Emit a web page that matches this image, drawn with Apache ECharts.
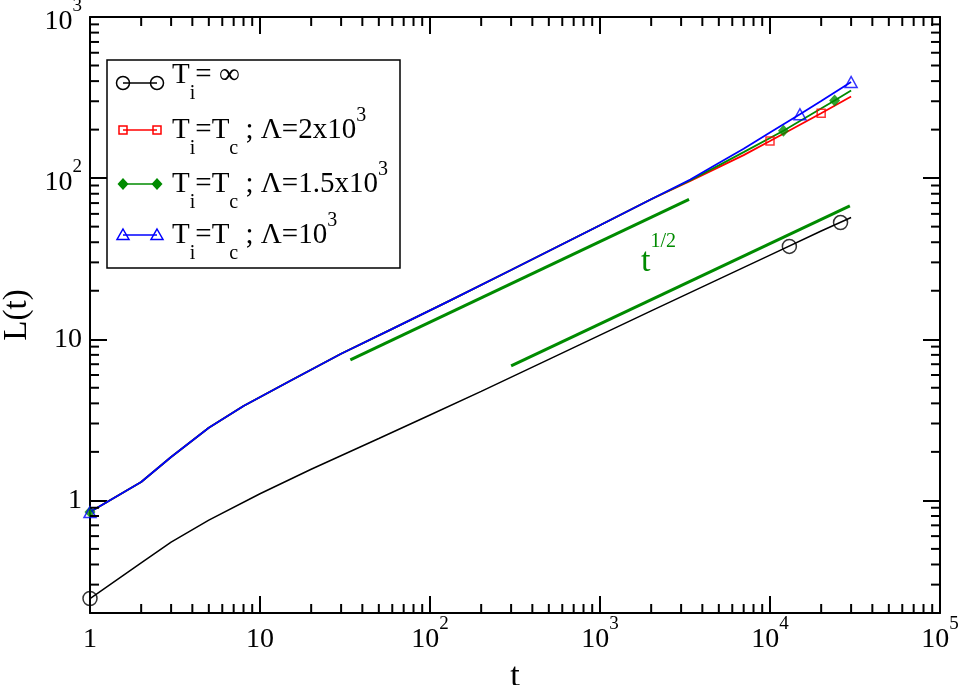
<!DOCTYPE html>
<html>
<head>
    <meta charset="utf-8">
    <script src="https://cdn.jsdelivr.net/npm/echarts@6/dist/echarts.min.js"></script>
    <style>
        html, body { margin: 0; padding: 0; background: #fff; }
        #main { width: 961px; height: 685px; }
    </style>
</head>
<body>
    <div id="main"></div>
    <script>
        var FONT = '"Liberation Serif", "Times New Roman", serif';
        var GREEN = '#008b00';

        // T_i = infinity
        var blackT = [1, 2, 3, 5, 10, 20, 50, 100, 200, 500, 1000, 2000, 5000, 10000, 20000, 30000];
        var blackL = [0.246, 0.41, 0.55, 0.755, 1.1, 1.56, 2.42, 3.39, 4.75, 7.5, 10.6, 15.0, 23.6, 33.3, 47, 57];
        var blackMarkT = [1, 13000, 26000];
        var blackMarkL = [0.246, 37.7, 53];

        // T_i = T_c, Lambda = 2x10^3
        var redT = [1, 2, 3, 5, 8, 15, 30, 60, 130, 300, 1000, 2000, 3400, 5000, 7000, 10000, 20000, 30000];
        var redL = [0.846, 1.30, 1.86, 2.82, 3.85, 5.51, 8.13, 11.6, 17.3, 26.9, 51, 74, 96, 117, 139, 170, 253, 321];
        var redMarkT = [10000, 20000];
        var redMarkL = [170, 253];

        // T_i = T_c, Lambda = 1.5x10^3
        var greenT = [1, 2, 3, 5, 8, 15, 30, 60, 130, 300, 1000, 2000, 3400, 5000, 7000, 12000, 24000, 30000];
        var greenL = [0.846, 1.30, 1.86, 2.82, 3.85, 5.51, 8.13, 11.6, 17.3, 26.9, 51, 74, 97, 120, 145, 197, 303, 350];
        var greenMarkT = [1, 12000, 24000];
        var greenMarkL = [0.846, 197, 303];

        // T_i = T_c, Lambda = 10^3
        var blueT = [1, 2, 3, 5, 8, 15, 30, 60, 130, 300, 1000, 2000, 3400, 5000, 7000, 10000, 15000, 20000, 30000];
        var blueL = [0.846, 1.30, 1.86, 2.82, 3.85, 5.51, 8.13, 11.6, 17.3, 26.9, 51, 74, 98, 124, 152, 192, 249, 301, 395];
        var blueMarkT = [1, 15000, 30000];
        var blueMarkL = [0.846, 249, 395];

        // t^(1/2) guide lines
        var guideUpperT = [34, 3340];
        var guideUpperL = [7.45, 73.7];
        var guideLowerT = [300, 29500];
        var guideLowerL = [6.84, 67.2];

        // minor ticks (2..9 per decade)
        var xMinor = [];
        for (var k = 0; k < 5; k++) {
            for (var m = 2; m <= 9; m++) xMinor.push(m * Math.pow(10, k));
        }
        var yMinor = [0.3, 0.4, 0.5, 0.6, 0.7, 0.8, 0.9];
        for (var k2 = 0; k2 < 3; k2++) {
            for (var m2 = 2; m2 <= 9; m2++) yMinor.push(m2 * Math.pow(10, k2));
        }

        function zip(a, b) {
            return a.map(function (v, i) { return [v, b[i]]; });
        }

        function powerLabel(v, plainTag) {
            var e = Math.round(Math.log10(v));
            if (Math.abs(v - Math.pow(10, e)) > 1e-6 * v) return '';
            if (e === 0) return '{' + plainTag + '|1}';
            if (e === 1) return '{' + plainTag + '|10}';
            return '{n|10}{e|' + e + '}';
        }

        var richBase = {
            n: { fontFamily: FONT, fontSize: 28, lineHeight: 30, padding: [10, 0, 0, 0], color: '#000' },
            e: { fontFamily: FONT, fontSize: 19, lineHeight: 18, padding: [0, 0, 22, 0], color: '#000' }
        };
        var xRich = Object.assign({
            p: { fontFamily: FONT, fontSize: 28, lineHeight: 30, padding: [10, 0, 0, 0], color: '#000' }
        }, richBase);
        var yRich = Object.assign({
            p: { fontFamily: FONT, fontSize: 28, lineHeight: 30, color: '#000' }
        }, richBase);

        var axisLine = { show: true, onZero: false, lineStyle: { color: '#000', width: 2 } };
        var majorTick = { show: true, inside: true, length: 17, lineStyle: { color: '#000', width: 2 } };

        function minorTickSeries(isX) {
            return {
                type: 'custom',
                silent: true,
                clip: false,
                z: 10,
                data: (isX ? xMinor : yMinor).map(function (v) { return isX ? [v, 1] : [1, v]; }),
                renderItem: function (params, api) {
                    var cs = params.coordSys;
                    var st = { stroke: '#000', lineWidth: 2 };
                    if (isX) {
                        var x = api.coord([api.value(0), 1])[0];
                        var b = cs.y + cs.height;
                        return { type: 'group', children: [
                            { type: 'line', shape: { x1: x, y1: b, x2: x, y2: b - 9 }, style: st },
                            { type: 'line', shape: { x1: x, y1: cs.y, x2: x, y2: cs.y + 9 }, style: st }
                        ] };
                    }
                    var y = api.coord([1, api.value(1)])[1];
                    var r = cs.x + cs.width;
                    return { type: 'group', children: [
                        { type: 'line', shape: { x1: cs.x, y1: y, x2: cs.x + 9, y2: y }, style: st },
                        { type: 'line', shape: { x1: r, y1: y, x2: r - 9, y2: y }, style: st }
                    ] };
                }
            };
        }

        function curve(t, l, color, width, z) {
            return {
                type: 'line', data: zip(t, l), symbol: 'none', z: z,
                lineStyle: { color: color, width: width }, silent: true
            };
        }

        function marks(t, l, symbol, size, color, filled, z) {
            return {
                type: 'scatter', data: zip(t, l), symbol: symbol, symbolSize: size, z: z,
                clip: false, silent: true,
                itemStyle: {
                    color: filled ? color : 'rgba(0,0,0,0)',
                    borderColor: color, borderWidth: filled ? 0 : 1.5
                }
            };
        }

        // legend drawn as graphics
        var legendRows = [
            { y: 83, color: '#000', sym: 'circle', text: '{m1|T}{s1|i}{m1|= \u221e}' },
            { y: 130, color: '#ff0000', sym: 'square', text: '{m|T}{s|i}{m|=T}{s|c}{m| ; \u039b=2x10}{u|3}' },
            { y: 184, color: GREEN, sym: 'diamond', text: '{m|T}{s|i}{m|=T}{s|c}{m| ; \u039b=1.5x10}{u|3}' },
            { y: 235, color: '#0000ff', sym: 'triangle', text: '{m|T}{s|i}{m|=T}{s|c}{m| ; \u039b=10}{u|3}' }
        ];
        var legendRich = {
            m1: { fontFamily: FONT, fontSize: 29, lineHeight: 28, padding: [0, 0, 16, 0], fill: '#000' },
            s1: { fontFamily: FONT, fontSize: 20, lineHeight: 19, padding: [23, 0, 2, 0], fill: '#000' },
            m: { fontFamily: FONT, fontSize: 29, lineHeight: 28, padding: [14, 0, 14, 0], fill: '#000' },
            s: { fontFamily: FONT, fontSize: 20, lineHeight: 19, padding: [37, 0, 0, 0], fill: '#000' },
            u: { fontFamily: FONT, fontSize: 20, lineHeight: 19, padding: [4, 0, 33, 0], fill: '#000' }
        };

        function legendSymbol(kind, cx, cy, color) {
            if (kind === 'circle') {
                return { type: 'circle', shape: { cx: cx, cy: cy, r: 6.5 }, style: { fill: 'none', stroke: color, lineWidth: 1.5 } };
            }
            if (kind === 'square') {
                return { type: 'rect', shape: { x: cx - 4, y: cy - 4, width: 8, height: 8 }, style: { fill: 'none', stroke: color, lineWidth: 1.5 } };
            }
            if (kind === 'diamond') {
                return { type: 'polygon', shape: { points: [[cx, cy - 6], [cx + 5.5, cy], [cx, cy + 6], [cx - 5.5, cy]] }, style: { fill: color } };
            }
            return { type: 'polygon', shape: { points: [[cx, cy - 6], [cx + 6, cy + 4.5], [cx - 6, cy + 4.5]] }, style: { fill: 'none', stroke: color, lineWidth: 1.5 } };
        }

        var legendEls = [{
            type: 'rect', shape: { x: 107, y: 60, width: 293, height: 208 },
            style: { fill: '#fff', stroke: '#000', lineWidth: 1.5 }, z: 100
        }];
        legendRows.forEach(function (row) {
            legendEls.push({ type: 'line', shape: { x1: 123, y1: row.y, x2: 157, y2: row.y }, style: { stroke: row.color, lineWidth: 1.5 }, z: 101 });
            var s1 = legendSymbol(row.sym, 123, row.y, row.color); s1.z = 102;
            var s2 = legendSymbol(row.sym, 157, row.y, row.color); s2.z = 102;
            legendEls.push(s1, s2);
            legendEls.push({
                type: 'text', z: 102,
                style: { text: row.text, rich: legendRich, x: 172, y: row.y, verticalAlign: 'middle', align: 'left', fill: '#000' }
            });
        });
        legendEls.push({
            type: 'text', z: 102,
            style: {
                text: '{t|t}{h|1/2}', x: 641, y: 238, verticalAlign: 'top', align: 'left',
                rich: {
                    t: { fontFamily: FONT, fontSize: 34, lineHeight: 34, padding: [14, 0, 0, 0], fill: GREEN },
                    h: { fontFamily: FONT, fontSize: 20, lineHeight: 22, padding: [0, 0, 26, 0], fill: GREEN }
                }
            }
        });

        var chart = echarts.init(document.getElementById('main'));
        var option = {
            animation: false,
            backgroundColor: '#fff',
            grid: { left: 90, right: 21, top: 17, bottom: 72, containLabel: false, outerBoundsMode: 'none' },
            xAxis: [{
                type: 'log', logBase: 10, min: 1, max: 100000, position: 'bottom',
                name: 't', nameLocation: 'middle', nameGap: 39,
                nameTextStyle: { fontFamily: FONT, fontSize: 34, color: '#000' },
                axisLine: axisLine, axisTick: majorTick, splitLine: { show: false },
                axisLabel: {
                    margin: 7, color: '#000', fontFamily: FONT, fontSize: 28,
                    formatter: function (v) { return powerLabel(v, 'p'); }, rich: xRich
                }
            }, {
                type: 'log', logBase: 10, min: 1, max: 100000, position: 'top',
                axisLine: axisLine, axisTick: majorTick, splitLine: { show: false },
                axisLabel: { show: false }
            }],
            yAxis: [{
                type: 'log', logBase: 10, min: 0.2, max: 1000, position: 'left',
                name: 'L(t)', nameLocation: 'middle', nameGap: 55,
                nameTextStyle: { fontFamily: FONT, fontSize: 33, color: '#000' },
                axisLine: axisLine, axisTick: majorTick, splitLine: { show: false },
                axisLabel: {
                    margin: 8, color: '#000', fontFamily: FONT, fontSize: 28,
                    formatter: function (v) { return powerLabel(v, 'p'); }, rich: yRich
                }
            }, {
                type: 'log', logBase: 10, min: 0.2, max: 1000, position: 'right',
                axisLine: axisLine, axisTick: majorTick, splitLine: { show: false },
                axisLabel: { show: false }
            }],
            graphic: legendEls,
            series: [
                minorTickSeries(true),
                minorTickSeries(false),
                curve(guideUpperT, guideUpperL, GREEN, 3, 3),
                curve(guideLowerT, guideLowerL, GREEN, 3, 3),
                curve(blackT, blackL, '#000', 1.5, 4),
                curve(redT, redL, '#ff0000', 1.8, 5),
                curve(greenT, greenL, GREEN, 1.8, 6),
                curve(blueT, blueL, '#0000ff', 1.8, 7),
                marks(blackMarkT, blackMarkL, 'circle', 14, '#000', false, 8),
                marks(redMarkT, redMarkL, 'rect', 8, '#ff0000', false, 8),
                marks(greenMarkT, greenMarkL, 'diamond', [11, 12], GREEN, true, 8),
                marks(blueMarkT, blueMarkL, 'triangle', [12, 11], '#0000ff', false, 9)
            ]
        };
        chart.setOption(option);
    </script>
</body>
</html>
